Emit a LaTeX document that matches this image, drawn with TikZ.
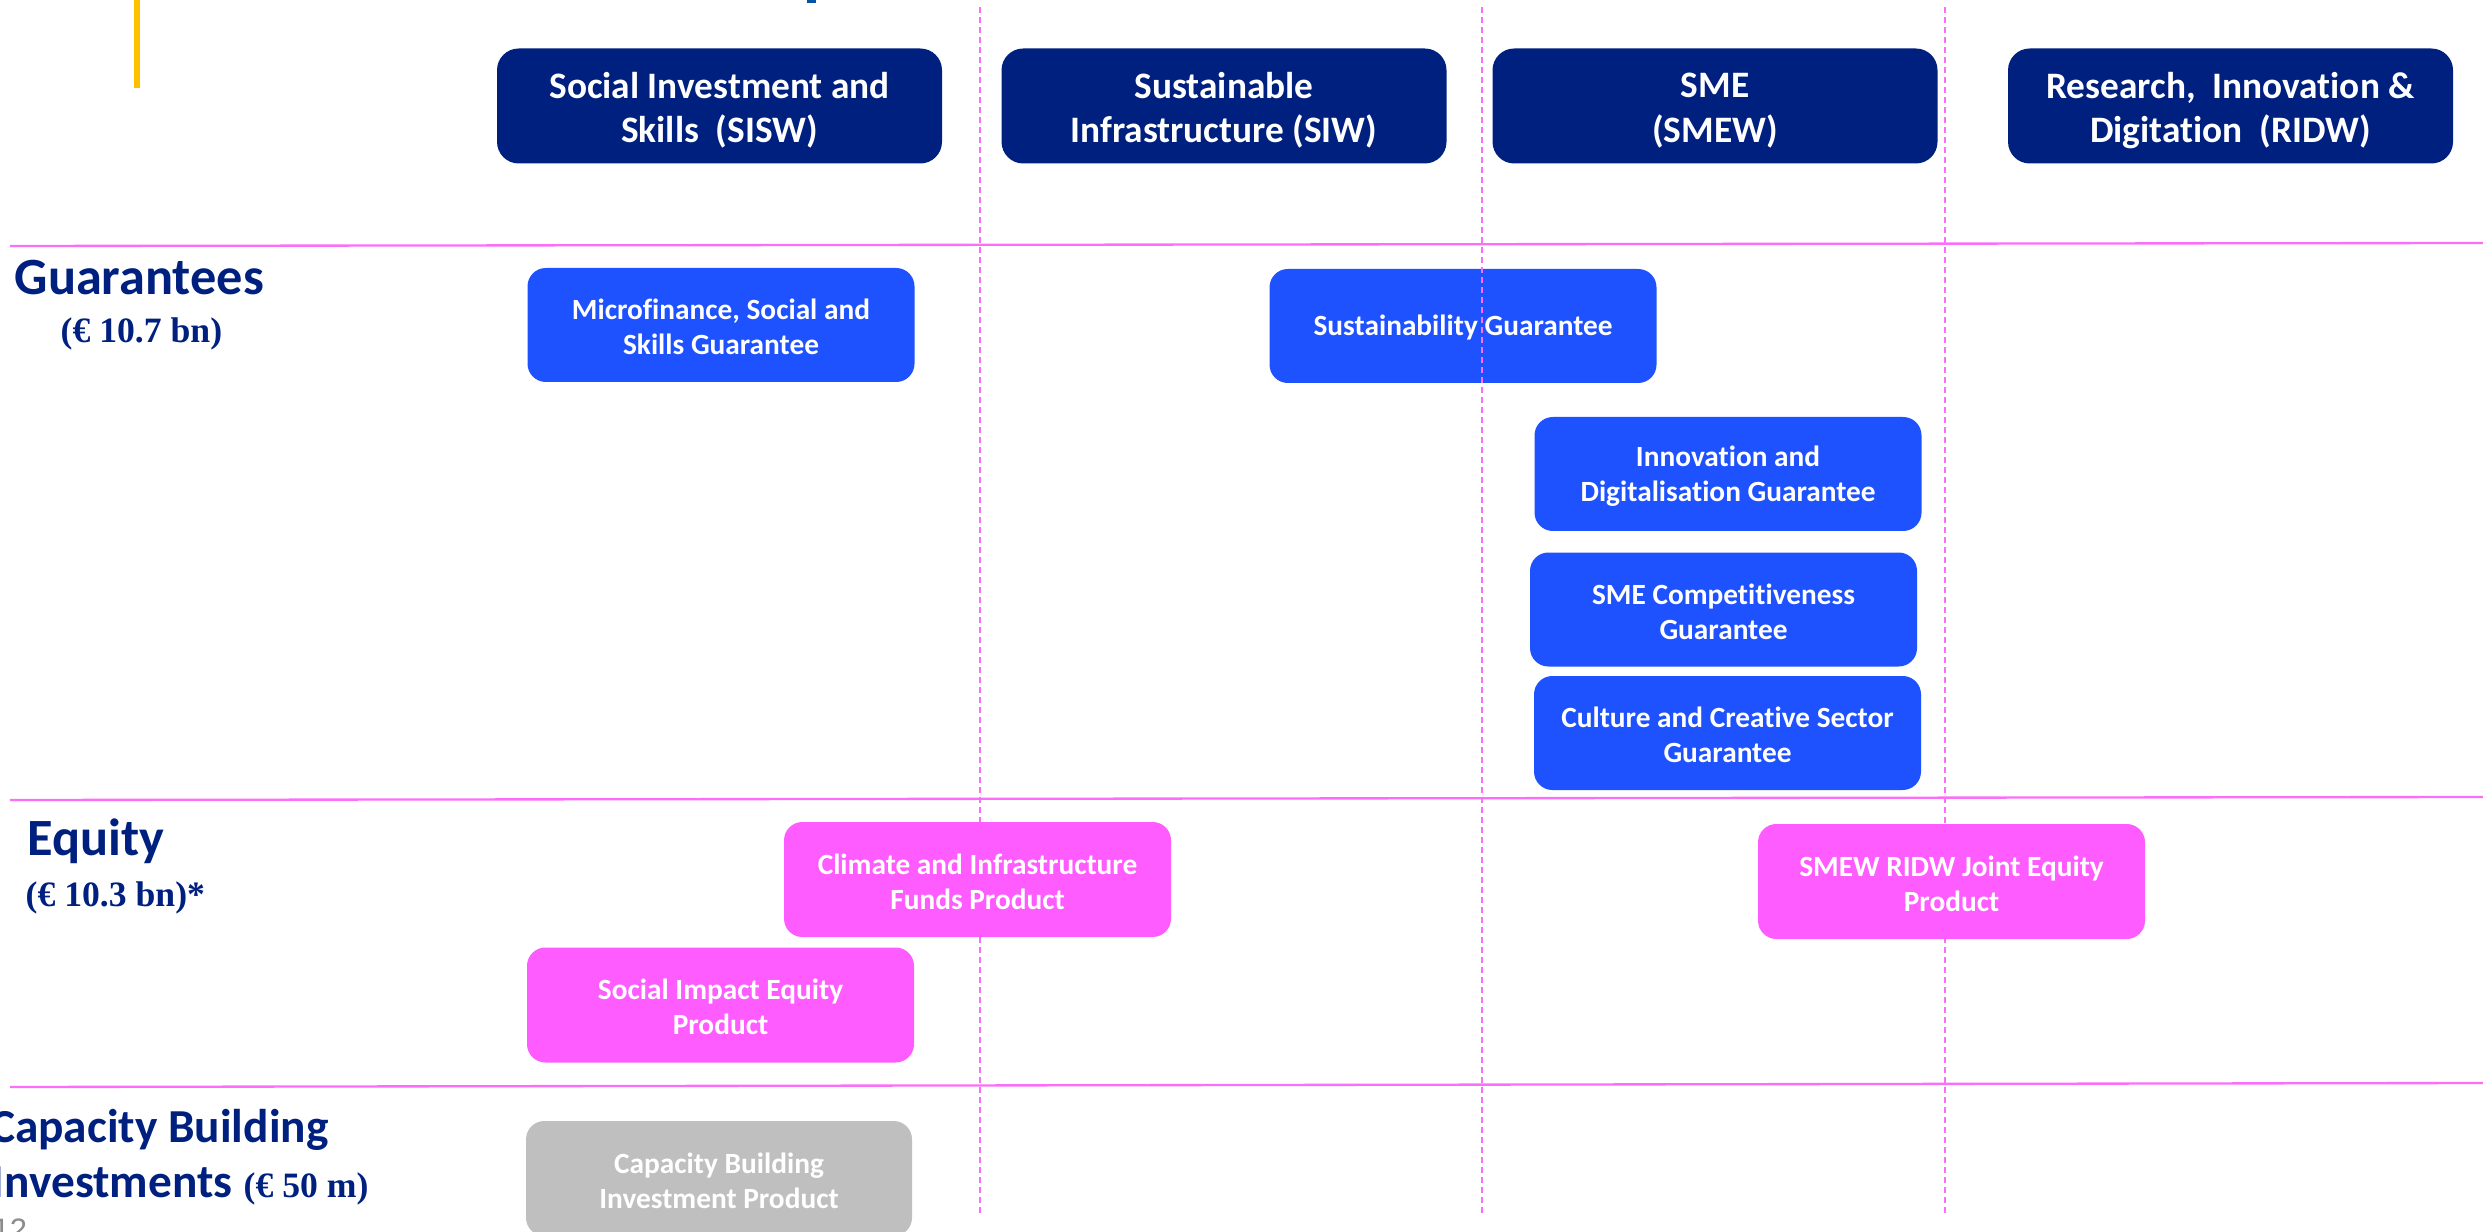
\documentclass[tikz,border=0pt]{standalone}
\usepackage{fontspec}
\newfontfamily\carlito{Carlito}[Ligatures=NoCommon]
\newfontfamily\timesbold{Liberation Serif}
\newfontfamily\arialf{Liberation Sans}
\definecolor{navy}{RGB}{0,32,128}
\definecolor{gblue}{RGB}{31,82,255}
\definecolor{epink}{RGB}{255,92,255}
\definecolor{cgray}{RGB}{191,191,191}
\definecolor{rule}{RGB}{250,110,250}
\definecolor{accent}{RGB}{255,192,0}
\definecolor{titleblue}{RGB}{0,84,166}
\begin{document}
\begin{tikzpicture}[x=0.3pt,y=-0.3pt,
  panel/.style={draw=none, rounded corners=5.5pt, inner sep=0pt},
  hdr/.style={panel, fill=navy, minimum width=133.5pt, minimum height=34.5pt,
    rounded corners=6.5pt},
  gbox/.style={panel, fill=gblue, minimum width=116.1pt, minimum height=34.2pt},
  ebox/.style={panel, fill=epink, minimum width=116.1pt, minimum height=34.5pt},
  cbox/.style={panel, fill=cgray, minimum width=115.8pt, minimum height=34.5pt},
  boxtext/.style={inner sep=0pt, align=center, text=white, yshift=-0.6pt,
    font=\carlito\bfseries\fontsize{8.8}{10.5}\selectfont},
  hdrtext/.style={inner sep=0pt, align=center, text=white, yshift=-1.35pt,
    font=\carlito\bfseries\fontsize{11.2}{13.3}\selectfont},
  rowlabel/.style={inner sep=0pt, text=navy, font=\carlito\bfseries\fontsize{15.7}{18}\selectfont},
  smalllabel/.style={rowlabel, font=\carlito\bfseries\fontsize{14.2}{17}\selectfont},
  amount/.style={inner sep=0pt, text=navy, font=\timesbold\bfseries\fontsize{10.7}{12}\selectfont},
  hrule/.style={draw=rule, line width=0.7pt},
  vrule/.style={draw=rule, line width=0.45pt, dash pattern=on 1.8pt off 1.2pt}]
\useasboundingbox (0,0) rectangle (2483,1232);

% accent bar and the foot of the title above the page
\fill[accent] (134,0) rectangle (140,88);
\fill[titleblue] (807,0) rectangle (816,3);

% row separators
\draw[hrule] (10,246) -- (2483,243);
\draw[hrule] (10,800) -- (2483,797);
\draw[hrule] (10,1087) -- (2483,1083);

% window headers
\node[hdr] (sisw) at (719.5,106) {};
\node[hdr] (siw)  at (1224,106)  {};
\node[hdr] (smew) at (1715,106)  {};
\node[hdr] (ridw) at (2230.5,106) {};
\node[hdrtext] (sisw-t) at (sisw.center) {Social Investment and\\Skills\ \ (SISW)};
\node[hdrtext] (siw-t)  at (siw.center)  {Sustainable\\Infrastructure (SIW)};
\node[hdrtext] (smew-t) at (smew.center) {SME\\(SMEW)};
\node[hdrtext] (ridw-t) at (ridw.center) {Research,\ \ Innovation \&\\Digitation\ \ (RIDW)};

% guarantee products
\node[gbox] (micro) at (721,325)      {};
\node[gbox] (sust)  at (1463,326)     {};
\node[gbox] (innov) at (1728,474)     {};
\node[gbox] (smec)  at (1723.5,609.5) {};
\node[gbox] (cult)  at (1727.5,733)   {};
\node[boxtext] (micro-t) at (micro.center) {Microfinance, Social and\\Skills Guarantee};
\node[boxtext] (innov-t) at (innov.center) {Innovation and\\Digitalisation Guarantee};
\node[boxtext] (smec-t)  at (smec.center)  {SME Competitiveness\\Guarantee};
\node[boxtext] (cult-t)  at (cult.center)  {Culture and Creative Sector\\Guarantee};

% window boundaries
\draw[vrule] (980,7) -- (980,1216);
\draw[vrule] (1482,7) -- (1482,1216);
\draw[vrule] (1945,7) -- (1945,1216);
\node[boxtext] (sust-t) at (sust.center) {Sustainability Guarantee};

% equity products
\node[ebox] (clim)  at (977.5,879.5)  {};
\node[ebox] (joint) at (1951.5,881.5) {};
\node[ebox] (simp)  at (720.5,1005)   {};
\node[boxtext] (clim-t)  at (clim.center)  {Climate and Infrastructure\\Funds Product};
\node[boxtext] (joint-t) at (joint.center) {SMEW RIDW Joint Equity\\Product};
\node[boxtext] (simp-t)  at (simp.center)  {Social Impact Equity\\Product};

% capacity building product
\node[cbox] (cap) at (719,1178.5) {};
\node[boxtext] (cap-t) at (cap.center) {Capacity Building\\Investment Product};

% row labels
\node[rowlabel, anchor=base west] (lg) at (14,295) {Guarantees};
\node[amount, anchor=base west] (ag) at (60,343) {(€ 10.7 bn)};
\node[rowlabel, anchor=base west] (le) at (27,855) {Equity};
\node[amount, anchor=base west] (ae) at (25,906) {(€ 10.3 bn)*};
\node[smalllabel, anchor=base east] (lc1) at (329,1142) {Capacity Building};
\node[smalllabel, anchor=base east] (lc2) at (233,1197) {Investments};
\node[amount, anchor=base west] (ac) at (243,1197) {(€ 50 m)};

% page number
\node[anchor=north west, inner sep=0pt, text=black!45,
  font=\arialf\fontsize{9.3}{10}\selectfont] (pg) at (-8,1218) {12};
\end{tikzpicture}
\end{document}
